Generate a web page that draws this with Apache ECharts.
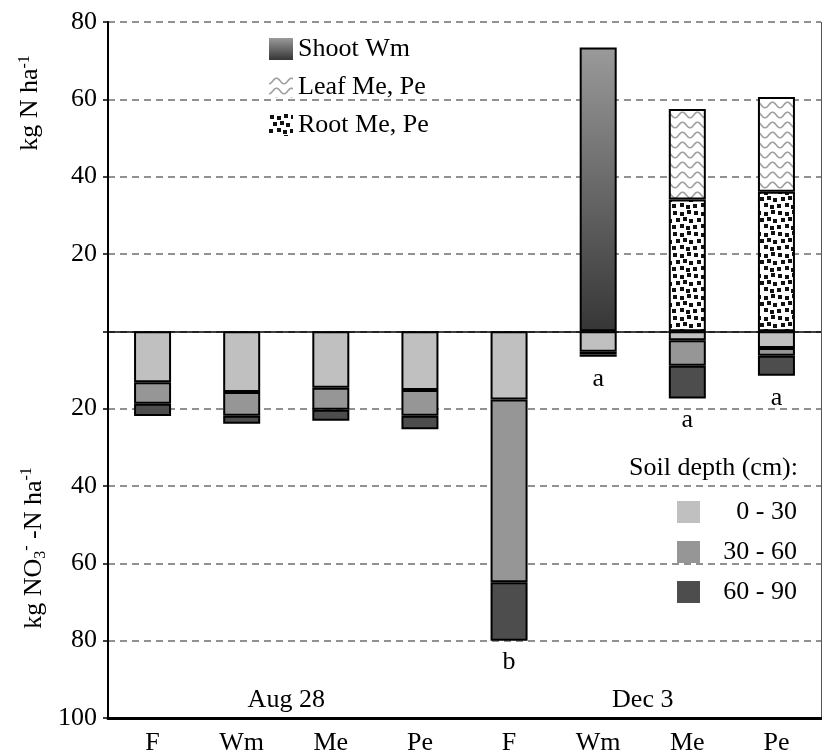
<!DOCTYPE html>
<html><head><meta charset="utf-8">
<script src="https://cdn.jsdelivr.net/npm/echarts@6/dist/echarts.min.js"></script>
<style>html,body{margin:0;padding:0;background:#fff}#c{width:822px;height:756px}</style>
</head><body><div id="c"></div>
<script>
// ---- data ----
const categories = ['F', 'Wm', 'Me', 'Pe', 'F', 'Wm', 'Me', 'Pe'];
const dates = ['Aug 28', 'Dec 3'];
// soil nitrate (kg NO3-N/ha), plotted downward
const soil0_30  = [13.2, 15.7, 14.6, 15.2, 17.6, 5.3, 2.3, 4.3];
const soil30_60 = [5.5, 6.1, 5.7, 6.6, 47.3, 0.7, 6.6, 2.0];
const soil60_90 = [3.2, 2.1, 2.8, 3.5, 15.1, 0.6, 8.5, 5.2];
// plant N (kg N/ha), plotted upward
const shootWm  = [null, null, null, null, null, 73.4, null, null];
const rootMePe = [null, null, null, null, null, null, 34.1, 36.1];
const leafMePe = [null, null, null, null, null, null, 23.4, 24.5];
const letters  = ['', '', '', '', 'b', 'a', 'a', 'a'];
const soilNames = ['0 - 30', '30 - 60', '60 - 90'];
const plantNames = ['Shoot Wm', 'Leaf Me, Pe', 'Root Me, Pe'];

const FONT = 'Liberation Serif';

function wavePattern() {
  const c = document.createElement('canvas');
  c.width = 15; c.height = 10;
  const g = c.getContext('2d');
  g.fillStyle = '#fff'; g.fillRect(0, 0, 15, 10);
  g.strokeStyle = '#a0a0a0'; g.lineWidth = 1.6;
  g.beginPath();
  for (let i = 0; i <= 30; i++) {
    const x = i * 0.5;
    const y = 5 + 2.8 * Math.cos(x / 15 * 2 * Math.PI);
    if (i === 0) g.moveTo(x, y); else g.lineTo(x, y);
  }
  g.stroke();
  return c;
}
function dotPattern() {
  const c = document.createElement('canvas');
  c.width = 21; c.height = 21;
  const g = c.getContext('2d');
  g.fillStyle = '#fff'; g.fillRect(0, 0, 21, 21);
  g.fillStyle = '#111';
  const pts = [[1,1],[8,2],[15,0],[4,8],[11,7],[17,9],[0,15],[8,14],[14,16]];
  pts.forEach(p => g.fillRect(p[0], p[1], 4, 4));
  return c;
}

const neg = arr => arr.map(v => v == null ? null : -v);
const border = { borderColor: '#000', borderWidth: 2 };

const chart = echarts.init(document.getElementById('c'));
chart.setOption({
  animation: false,
  backgroundColor: '#fff',
  textStyle: { fontFamily: FONT, color: '#000' },
  grid: { left: 108, right: 1, top: 22, bottom: 38, containLabel: false },
  xAxis: [{
    type: 'category', data: categories, position: 'bottom',
    axisLine: { onZero: false, lineStyle: { color: '#000', width: 3 } },
    axisTick: { show: false },
    axisLabel: { fontSize: 26, fontFamily: FONT, color: '#000', margin: 12 },
    splitLine: { show: true, interval: (i) => i === 4, lineStyle: { color: '#555', width: 1, type: 'solid' } }
  }, {
    type: 'category', data: dates, position: 'bottom',
    axisLine: { show: false, onZero: false },
    axisTick: { show: false },
    splitLine: { show: false },
    axisLabel: { inside: true, fontSize: 26, fontFamily: FONT, color: '#000', margin: 5 }
  }],
  yAxis: {
    type: 'value', min: -100, max: 80, interval: 20,
    axisLine: { show: true, lineStyle: { color: '#000', width: 2 } },
    axisTick: { show: true, length: 5, lineStyle: { color: '#000', width: 1.5 } },
    axisLabel: { fontSize: 26, fontFamily: FONT, color: '#000', margin: 11,
      formatter: v => v === 0 ? '' : String(Math.abs(v)) },
    splitLine: { show: true, lineStyle: { color: '#6e6e6e', width: 1.5, type: [7, 5] } }
  },
  legend: [{
    data: plantNames, orient: 'vertical', left: 264, top: 31, icon: 'rect',
    itemWidth: 24, itemHeight: 22, itemGap: 12, selectedMode: false,
    itemStyle: { borderWidth: 0 },
    textStyle: { fontSize: 26, fontFamily: FONT, color: '#000' }
  }, {
    data: soilNames, orient: 'vertical', left: 672, top: 494,
    itemWidth: 23, itemHeight: 22, itemGap: 14, selectedMode: false, icon: 'rect',
    itemStyle: { borderWidth: 0 },
    formatter: n => '{r|' + n + '}',
    textStyle: { fontSize: 26, fontFamily: FONT, color: '#000',
      rich: { r: { width: 92, align: 'right', fontSize: 26, fontFamily: FONT } } }
  }],
  graphic: [
    { type: 'text', right: 24, top: 455,
      style: { text: 'Soil depth (cm):', font: '26px "Liberation Serif"', fill: '#000' } },
    { type: 'text', x: 30, y: 103, rotation: Math.PI / 2,
      style: { text: '{n|kg N ha}{s|-1}', align: 'center', verticalAlign: 'middle', fill: '#000',
        rich: { n: { fontSize: 26, fontFamily: FONT, fill: '#000', verticalAlign: 'bottom' },
                s: { fontSize: 16, fontFamily: FONT, fill: '#000', verticalAlign: 'top' } } } },
    { type: 'text', x: 34, y: 548, rotation: Math.PI / 2,
      style: { text: '{n|kg NO}{b|3}{s|-}{n| -N ha}{s|-1}', align: 'center', verticalAlign: 'middle', fill: '#000',
        rich: { n: { fontSize: 26, fontFamily: FONT, fill: '#000', verticalAlign: 'middle' },
                b: { fontSize: 16, fontFamily: FONT, fill: '#000', verticalAlign: 'bottom', padding: [14, 0, 0, 0] },
                s: { fontSize: 16, fontFamily: FONT, fill: '#000', verticalAlign: 'top', padding: [0, 0, 14, 0] } } } }
  ],
  series: [
    { name: '0 - 30', type: 'bar', stack: 'all', barWidth: 37, data: neg(soil0_30),
      itemStyle: Object.assign({ color: '#c0c0c0' }, border),
      markLine: { silent: true, symbol: 'none', label: { show: false },
        lineStyle: { color: '#000', width: 1.5, type: 'solid' }, data: [{ yAxis: 0 }] } },
    { name: '30 - 60', type: 'bar', stack: 'all', barWidth: 37, data: neg(soil30_60),
      itemStyle: Object.assign({ color: '#969696' }, border) },
    { name: '60 - 90', type: 'bar', stack: 'all', barWidth: 37, data: neg(soil60_90),
      itemStyle: Object.assign({ color: '#4d4d4d' }, border),
      label: { show: true, position: 'outside', distance: 9, fontSize: 26, fontFamily: FONT, color: '#000',
        formatter: p => letters[p.dataIndex] } },
    { name: 'Shoot Wm', type: 'bar', stack: 'all', barWidth: 37, data: shootWm,
      itemStyle: Object.assign({ color: { type: 'linear', x: 0, y: 0, x2: 0, y2: 1,
        colorStops: [{ offset: 0, color: '#9a9a9a' }, { offset: 1, color: '#363636' }] } }, border) },
    { name: 'Root Me, Pe', type: 'bar', stack: 'all', barWidth: 37, data: rootMePe,
      itemStyle: Object.assign({ color: { image: dotPattern(), repeat: 'repeat' } }, border) },
    { name: 'Leaf Me, Pe', type: 'bar', stack: 'all', barWidth: 37, data: leafMePe,
      itemStyle: Object.assign({ color: { image: wavePattern(), repeat: 'repeat' } }, border) }
  ]
});
</script>
</body></html>
